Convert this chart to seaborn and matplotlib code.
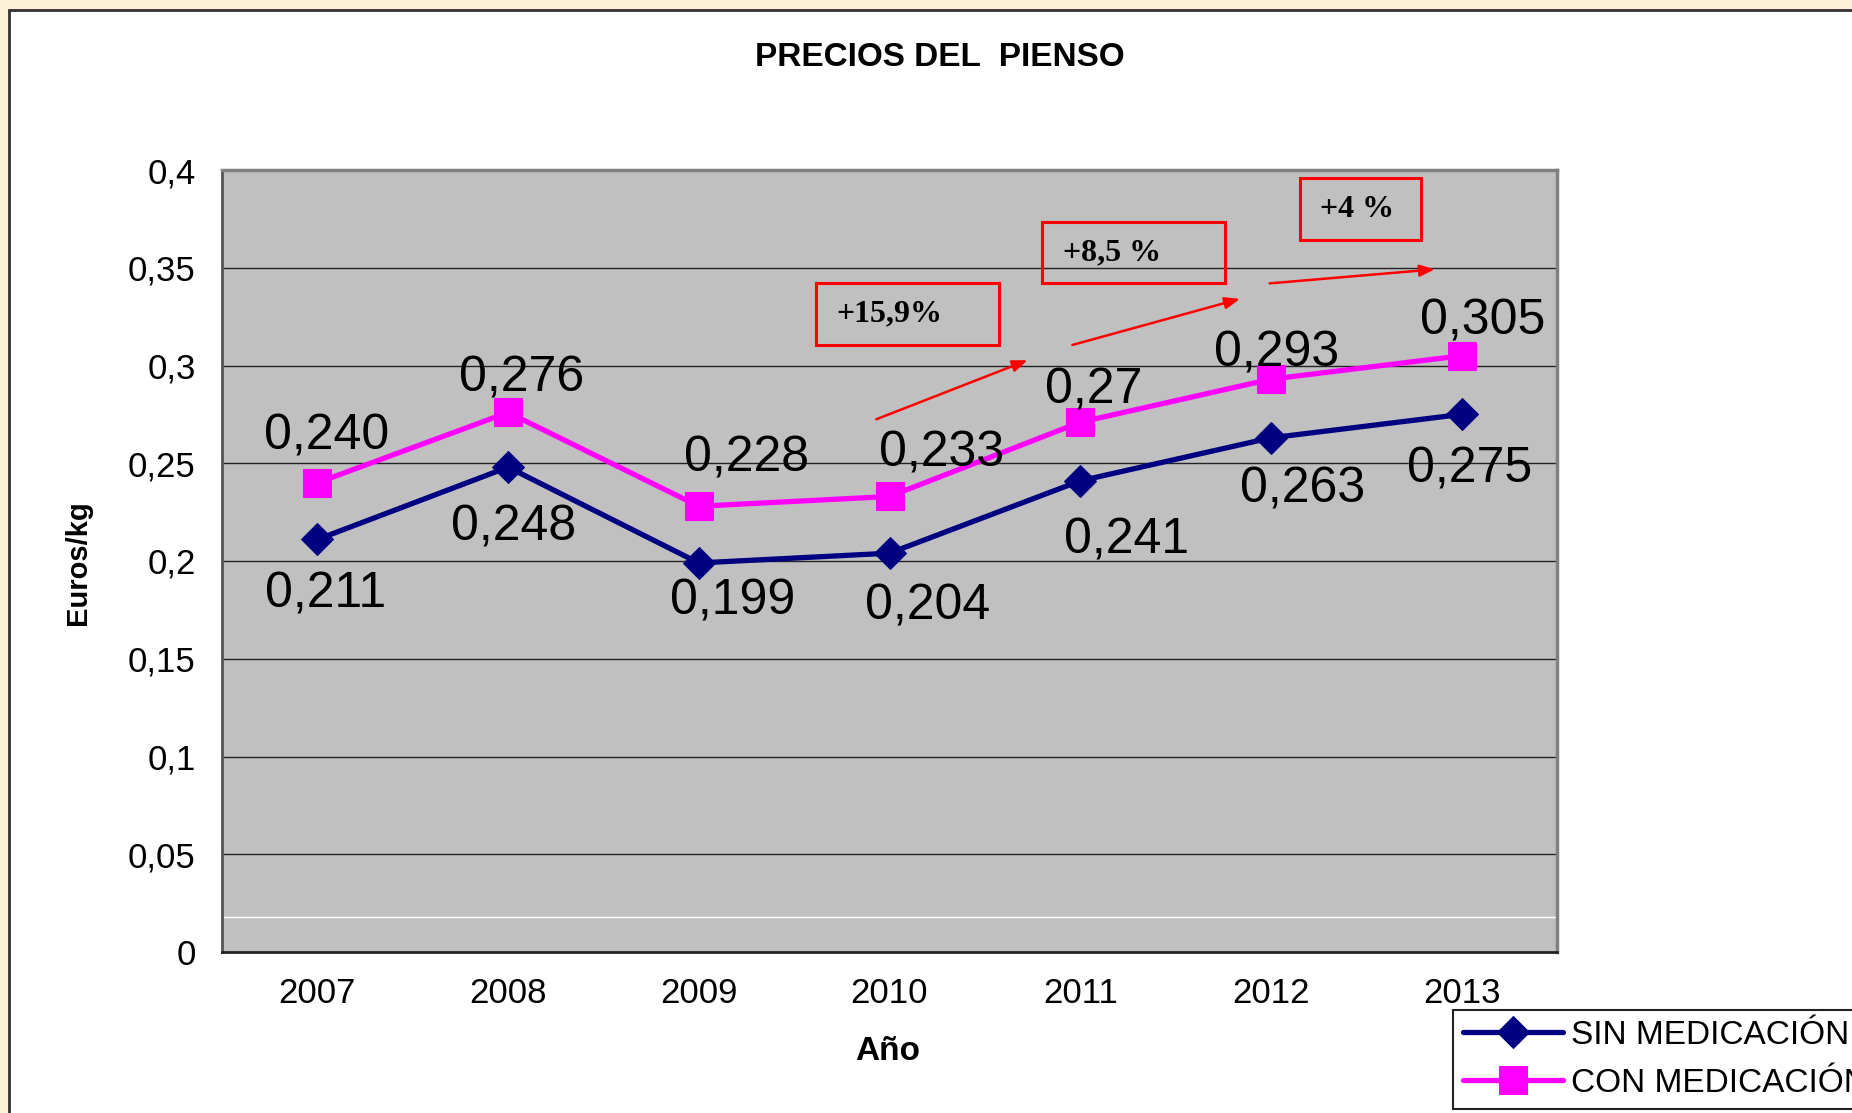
import matplotlib
matplotlib.use("Agg")
import matplotlib.pyplot as plt
import seaborn as sns
from matplotlib.patches import Rectangle

# datos
years = ["2007", "2008", "2009", "2010", "2011", "2012", "2013"]
sin_medicacion = [0.211, 0.248, 0.199, 0.204, 0.241, 0.263, 0.275]
con_medicacion = [0.240, 0.276, 0.228, 0.233, 0.271, 0.293, 0.305]
sin_labels = ["0,211", "0,248", "0,199", "0,204", "0,241", "0,263", "0,275"]
con_labels = ["0,240", "0,276", "0,228", "0,233", "0,27", "0,293", "0,305"]
y_ticks = [0, 0.05, 0.1, 0.15, 0.2, 0.25, 0.3, 0.35, 0.4]
y_ticklabels = ["0", "0,05", "0,1", "0,15", "0,2", "0,25", "0,3", "0,35", "0,4"]
growth_labels = ["+15,9%", "+8,5 %", "+4 %"]

# offsets of the value labels (pixels)
sin_offsets = [(8, -55), (5, -60), (34, -39), (38, -53), (46, -60), (32, -52), (8, -55)]
con_offsets = [(9, 46), (14, 34), (48, 48), (52, 43), (13, 32), (6, 26), (21, 34)]


def draw_chart():
    sns.set_style("white")
    plt.rcParams["font.family"] = ["Liberation Sans", "DejaVu Sans"]
    for key in ["text.color", "axes.labelcolor", "xtick.color", "ytick.color"]:
        plt.rcParams[key] = "black"

    fig = plt.figure(figsize=(18.52, 11.13), dpi=100)
    fig.patch.set_facecolor("#fcf0d7")
    # white panel with dark border, as in the slide
    fig.patches.append(Rectangle((9 / 1852, -0.01), 1.0, 1.01 - 10 / 1113, transform=fig.transFigure,
                                 facecolor="white", edgecolor="#333333", linewidth=2.0, zorder=-5))

    ax = fig.add_axes([222 / 1852, 161 / 1113, 1335 / 1852, 782 / 1113])
    ax.set_facecolor("#c0c0c0")

    x = list(range(len(years)))
    sns.lineplot(x=x, y=sin_medicacion, ax=ax, color="#000080", linewidth=3.8, marker="D",
                 markersize=16.5, markeredgecolor="#000080", label="SIN MEDICACIÓN", zorder=4)
    sns.lineplot(x=x, y=con_medicacion, ax=ax, color="#ff00ff", linewidth=3.8, marker="s",
                 markersize=19.5, markeredgecolor="#ff00ff", label="CON MEDICACIÓN", zorder=4)

    for i in x:
        ax.annotate(sin_labels[i], (i, sin_medicacion[i]), xytext=sin_offsets[i],
                    textcoords="offset pixels", ha="center", va="center", fontsize=36, zorder=5)
        ax.annotate(con_labels[i], (i, con_medicacion[i]), xytext=con_offsets[i],
                    textcoords="offset pixels", ha="center", va="center", fontsize=36, zorder=5)

    ax.set_xlim(-0.5, len(years) - 0.5)
    ax.set_ylim(0, 0.4)
    ax.set_yticks(y_ticks)
    ax.set_yticklabels(y_ticklabels)
    for t in y_ticks[1:]:
        ax.axhline(t, color="#222222", linewidth=1.0, zorder=1)
    ax.axhline(0.018, color="white", linewidth=1.0, zorder=1)

    ax.set_xticks([i - 0.5 for i in range(len(years) + 1)])
    ax.set_xticklabels([])
    ax.set_xticks(x, minor=True)
    ax.set_xticklabels(years, minor=True)
    ax.tick_params(axis="x", which="major", direction="out", length=9, width=1.2, color="#333333")
    ax.tick_params(axis="x", which="minor", length=0, pad=18, labelsize=25)
    ax.tick_params(axis="y", direction="out", length=9, width=1.2, color="#333333", pad=10, labelsize=25)

    for side in ["top", "right"]:
        ax.spines[side].set_color("#808080")
        ax.spines[side].set_linewidth(2.5)
    ax.spines["left"].set_color("#555555")
    ax.spines["left"].set_linewidth(2.0)
    ax.spines["bottom"].set_color("#222222")
    ax.spines["bottom"].set_linewidth(2.0)

    # red boxes with the growth percentages
    boxes = [(2.615, 0.3105, 0.959, 0.0317), (3.800, 0.3422, 0.960, 0.0312), (5.153, 0.3642, 0.634, 0.0317)]
    text_pos = [(2.72, 0.3262), (3.91, 0.3575), (5.258, 0.3800)]
    for (bx, by, bw, bh), (tx, ty), lab in zip(boxes, text_pos, growth_labels):
        ax.add_patch(Rectangle((bx, by), bw, bh, fill=False, edgecolor="#ff0000", linewidth=2.2, zorder=6))
        ax.text(tx, ty, lab, family=["Liberation Serif"], fontweight="bold", fontsize=23,
                ha="left", va="center", zorder=7)

    arrows = [((2.931, 0.2725), (3.724, 0.3027)), ((3.959, 0.3105), (4.838, 0.3341)),
              ((4.993, 0.3420), (5.860, 0.3492))]
    for start, end in arrows:
        ax.annotate("", xy=end, xytext=start,
                    arrowprops=dict(arrowstyle="-|>,head_length=0.9,head_width=0.35", color="#ff0000",
                                    linewidth=1.8, shrinkA=0, shrinkB=0), zorder=6)

    ax.set_xlabel("")
    ax.set_ylabel("")
    fig.text(940 / 1852, 1 - 58 / 1113, "PRECIOS DEL  PIENSO", ha="center", va="center",
             fontsize=24, fontweight="bold")
    fig.text(78 / 1852, 1 - 563 / 1113, "Euros/kg", ha="center", va="center", rotation=90,
             fontsize=21, fontweight="bold")
    fig.text(888 / 1852, 1 - 1052 / 1113, "Año", ha="center", va="center",
             fontsize=24, fontweight="bold")

    ax.get_legend().remove()
    handles, labels = ax.get_legend_handles_labels()
    leg = fig.legend(handles, labels, loc="upper left", bbox_to_anchor=(1453 / 1852, 1 - 1010 / 1113),
                     fontsize=24, frameon=True, fancybox=False, handlelength=3.0, handletextpad=0.25,
                     borderpad=0.3, labelspacing=0.5, borderaxespad=0)
    leg.get_frame().set_edgecolor("#222222")
    leg.get_frame().set_linewidth(1.5)
    leg.get_frame().set_facecolor("white")
    leg.get_frame().set_alpha(1)

    plt.savefig("out.png", dpi=100, facecolor=fig.get_facecolor())


if __name__ == "__main__":
    draw_chart()
